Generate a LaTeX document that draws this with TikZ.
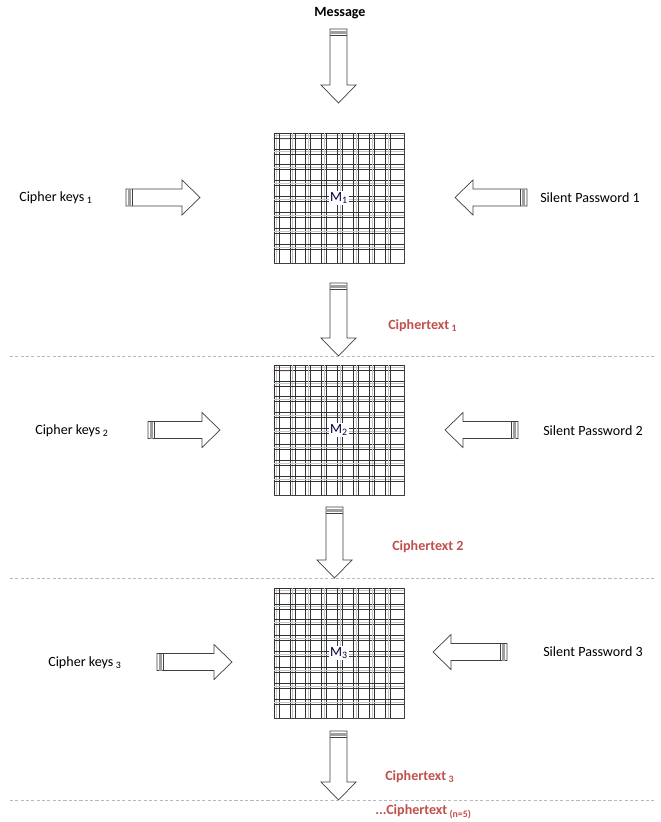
\documentclass[tikz,border=0pt]{standalone}
\usepackage{fontspec}
\setmainfont{Carlito}
\usetikzlibrary{arrows.meta}

\definecolor{cipherred}{HTML}{C0504D}
\definecolor{outline}{HTML}{404040}

\tikzset{
  lbl/.style={inner sep=0pt, anchor=west, font=\fontsize{10}{12}\selectfont},
  ctext/.style={lbl, text=cipherred, font=\fontsize{10}{12}\selectfont\bfseries},
  matrixbox/.style={draw=outline, line width=0.6pt, minimum size=3.25cm, inner sep=0pt,
    font=\fontsize{10}{12}\selectfont, text=black!80!blue},
  mlabel/.style={fill=white, inner sep=0.8pt, font=\fontsize{10}{12}\selectfont, text=black!75!blue},
  sep line/.style={gray!55, line width=0.6pt, dash pattern=on 2.2pt off 1.6pt},
  pics/blockarrow/.style={code={
    % outline of shaft and head, pointing along +x
    \draw[outline, line width=0.5pt, fill=white] (0,-8.5) -- (#1-18,-8.5) -- (#1-18,-17.5)
      -- (#1,0) -- (#1-18,17.5) -- (#1-18,8.5) -- (0,8.5) -- cycle;
    % striped base
    \fill[gray!75] (2.3,-8.5) rectangle (4.6,8.5);
    \draw[outline, line width=0.5pt] (6.7,-8.5) -- (6.7,8.5);
  }}
}

% grid of clustered lines inside a matrix box
\newcommand{\cluster}[1]{%
  \begin{scope}[shift={(#1.north west)}]
    \foreach \c in {3,18.9,34.8,50.7,66.6,82.5,98.4,114.3} {
        \draw[gray!45, line width=0.5pt] (\c,0) -- (\c,130) (0,\c) -- (130,\c);
        \draw[black!80, line width=0.6pt] (\c-2.5,0) -- (\c-2.5,130) (\c+2.5,0) -- (\c+2.5,130)
          (0,\c-2.5) -- (130,\c-2.5) (0,\c+2.5) -- (130,\c+2.5);
    }
    \node[text=cipherred!60, font=\fontsize{2.5}{3}\selectfont, inner sep=0pt] at (12,7) {00\ 01};
  \end{scope}}

\begin{document}
\begin{tikzpicture}[x=0.025cm, y=-0.025cm, >=Stealth]
\useasboundingbox (0,0) rectangle (661,822);

% message and first round
\node[lbl, anchor=center, font=\fontsize{10}{12}\selectfont\bfseries] (msg) at (340,13) {Message};
\pic[rotate=-90] (a0) at (338.5,29) {blockarrow=74};

\node[matrixbox] (g1) at (339,198) {};
\cluster{g1}
\node[mlabel] (m1) at (g1.center) {M\textsubscript{1}};

\node[lbl] (ck1) at (19,198) {Cipher keys\,\textsubscript{1}};
\pic (k1) at (126,197.5) {blockarrow=74};
\node[lbl] (sp1) at (540,198) {Silent Password 1};
\pic[rotate=180] (p1) at (527,197.5) {blockarrow=72};

\pic[rotate=-90] (a1) at (338.5,283) {blockarrow=73};
\node[ctext] (ct1) at (388,326) {Ciphertext\,\textsubscript{1}};
\draw[sep line] (10,356) -- (655,356);

% second round
\node[matrixbox] (g2) at (339,430) {};
\cluster{g2}
\node[mlabel] (m2) at (g2.center) {M\textsubscript{2}};

\node[lbl] (ck2) at (35,431) {Cipher keys\,\textsubscript{2}};
\pic (k2) at (148,430) {blockarrow=72};
\node[lbl] (sp2) at (543,431) {Silent Password 2};
\pic[rotate=180] (p2) at (518,430) {blockarrow=73};

\pic[rotate=-90] (a2) at (334.5,507) {blockarrow=71};
\node[ctext] (ct2) at (392,547) {Ciphertext 2};
\draw[sep line] (10,578) -- (655,578);

% third round
\node[matrixbox] (g3) at (339,653) {};
\cluster{g3}
\node[mlabel] (m3) at (g3.center) {M\textsubscript{3}};

\node[lbl] (ck3) at (48,663) {Cipher keys\,\textsubscript{3}};
\pic (k3) at (157,662) {blockarrow=75};
\node[lbl] (sp3) at (543,652) {Silent Password 3};
\pic[rotate=180] (p3) at (507,652) {blockarrow=74};

\pic[rotate=-90] (a3) at (338.5,731) {blockarrow=69};
\node[ctext] (ct3) at (385,777) {Ciphertext\,\textsubscript{3}};
\draw[sep line] (10,800) -- (655,800);
\node[ctext] (ct5) at (375,812) {...Ciphertext\,\textsubscript{(n=5)}};

\end{tikzpicture}
\end{document}
